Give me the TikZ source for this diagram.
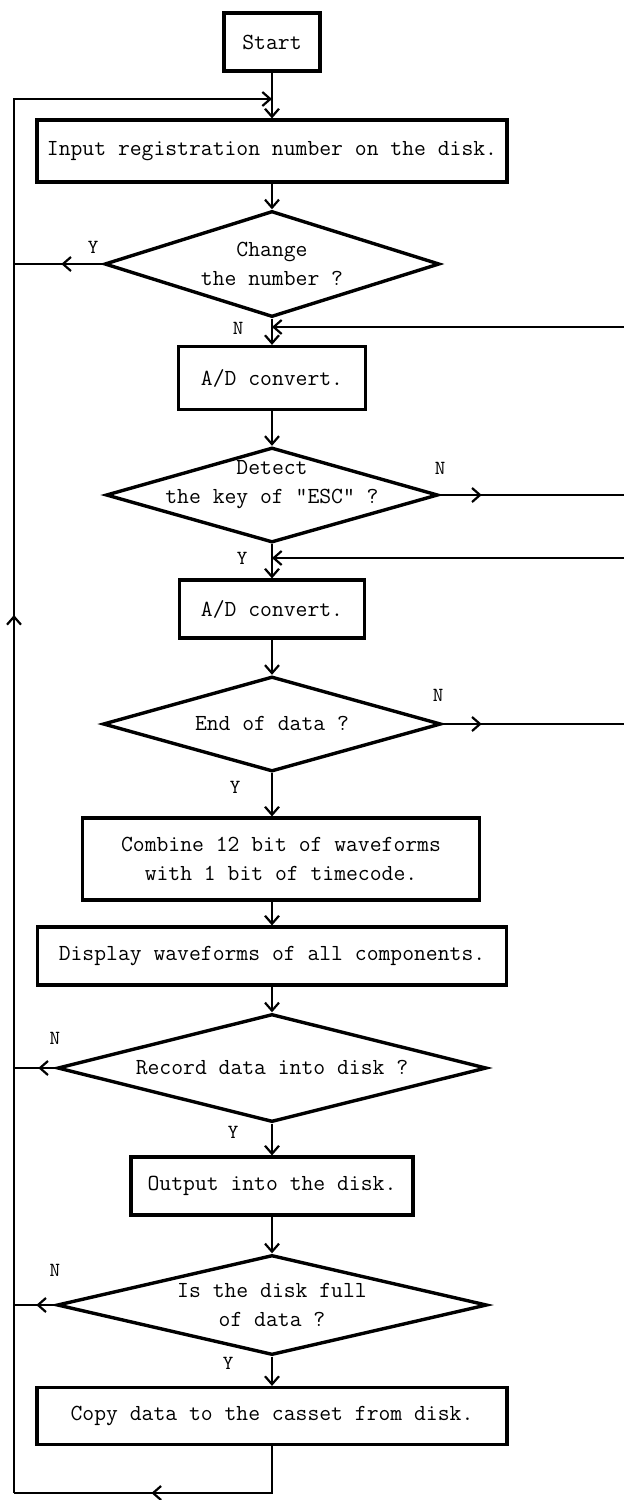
\documentclass[tikz,border=0pt]{standalone}
\usetikzlibrary{arrows.meta, shapes.geometric, decorations.markings, positioning}
\newcommand{\flowfont}{\ttfamily\fontsize{11.5}{14.5}\selectfont}
\newcommand{\ynfont}{\ttfamily\fontsize{10}{12}\selectfont}
\newcommand{\dtxt}[2][0pt]{\smash{\makebox[0pt]{\raisebox{\dimexpr-0.3em+#1\relax}{\begin{tabular}{@{}c@{}}#2\end{tabular}}}}}
\tikzset{
  procbox/.style ={draw, rectangle, line width=1.6pt, inner sep=0pt, font=\flowfont, align=center},
  decide/.style  ={draw, diamond, line width=1.7pt, inner sep=0pt, font=\flowfont},
  flow/.style    ={-{Straight Barb[length=4pt, width=7pt]}, line width=1.1pt},   % plain connector with tip
  wire/.style    ={line width=1.1pt},
  midarr/.style  ={postaction={decorate, decoration={markings,
                   mark=at position #1 with {\arrow{Straight Barb[length=4pt, width=7pt]}}}}},
  yn/.style      ={font=\ynfont, inner sep=0pt},
}

\begin{document}
\begin{tikzpicture}[x=0.5pt, y=-0.5pt]
  \useasboundingbox (0,0) rectangle (624,1500);

  % main column
  \node[procbox, minimum width=48pt,    minimum height=29pt]   (start) at (272,42)   {Start};
  \node[procbox, minimum width=235pt,   minimum height=31pt]   (input) at (272,151)  {Input registration number on the disk.};
  \node[decide,  minimum width=167.5pt, minimum height=53pt]   (chg)   at (272,264)  {\dtxt{Change\\the number ?}};
  \node[procbox, minimum width=93.5pt,  minimum height=31.5pt] (ad1)   at (272,378)  {A/D convert.};
  \node[decide,  minimum width=166pt,   minimum height=47.5pt] (esc)   at (272,495)  {\dtxt[6.5pt]{Detect\\the key of "ESC" ?}};
  \node[procbox, minimum width=92.5pt,  minimum height=29pt]   (ad2)   at (272,609)  {A/D convert.};
  \node[decide,  minimum width=169pt,   minimum height=47.5pt] (eod)   at (272,724)  {\dtxt{End of data ?}};
  \node[procbox, minimum width=198.5pt, minimum height=41pt]   (comb)  at (281,859)  {Combine 12 bit of waveforms\\with 1 bit of timecode.};
  \node[procbox, minimum width=234.5pt, minimum height=29pt]   (disp)  at (272,956)  {Display waveforms of all components.};
  \node[decide,  minimum width=214.5pt, minimum height=54pt]   (rec)   at (272,1068) {\dtxt{Record data into disk ?}};
  \node[procbox, minimum width=141pt,   minimum height=29pt]   (out)   at (272,1186) {Output into the disk.};
  \node[decide,  minimum width=215pt,   minimum height=50pt]   (full)  at (272,1305) {\dtxt{Is the disk full\\of data ?}};
  \node[procbox, minimum width=235pt,   minimum height=28.5pt] (copy)  at (272,1416) {Copy data to the casset from disk.};

  % rails
  \coordinate (rt) at (14,99);
  \coordinate (rb) at (14,1493);
  \coordinate (entry) at (272,99);
  \coordinate (r1) at (624,327);
  \coordinate (j1) at (272,327);
  \coordinate (r2) at (624,558);
  \coordinate (j2) at (272,558);

  \draw[flow] (start) -- (input);
  \draw[flow, midarr=439pt] (rb) -- (rt) -- (entry);
  \draw[flow] (input) -- (chg);
  \draw[wire, midarr=20.75pt] (chg.west) -- (chg.west -| rt);
  \draw[flow] (chg) -- (ad1);
  \draw[flow] (r1) -- (j1);
  \draw[flow] (ad1) -- (esc);
  \draw[wire, midarr=21pt] (esc.east) -- (esc.east -| r1);
  \draw[flow] (esc) -- (ad2);
  \draw[flow] (r2) -- (j2);
  \draw[flow] (ad2) -- (eod);
  \draw[wire, midarr=19.5pt] (eod.east) -- (eod.east -| r1);
  \draw[flow] (eod.south) -- (eod.south |- comb.north);
  \draw[flow] (comb.south -| disp.north) -- (disp.north);
  \draw[flow] (disp) -- (rec);
  \draw[wire, midarr=8.75pt] (rec.west) -- (rec.west -| rt);
  \draw[flow] (rec) -- (out);
  \draw[flow] (out) -- (full);
  \draw[wire, midarr=9.5pt] (full.west) -- (full.west -| rt);
  \draw[flow] (full) -- (copy);
  \draw[wire, midarr=83.75pt] (copy.south) -- (copy.south |- rb) -- (rb);

  % branch labels
  \node[yn] (ychg)  at (93,247)   {Y};
  \node[yn] (nchg)  at (238,328)  {N};
  \node[yn] (nesc)  at (440,468)  {N};
  \node[yn] (yesc)  at (242,558)  {Y};
  \node[yn] (neod)  at (438,695)  {N};
  \node[yn] (yeod)  at (235,787)  {Y};
  \node[yn] (nrec)  at (55,1038)  {N};
  \node[yn] (yrec)  at (233,1132) {Y};
  \node[yn] (nfull) at (55,1270)  {N};
  \node[yn] (yfull) at (228,1363) {Y};
\end{tikzpicture}
\end{document}
